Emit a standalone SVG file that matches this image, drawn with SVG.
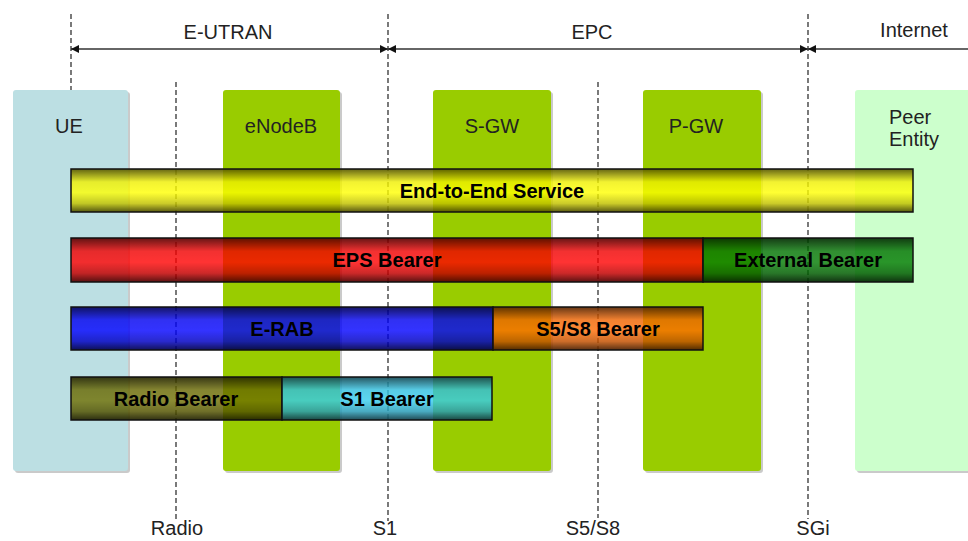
<svg xmlns="http://www.w3.org/2000/svg" width="968" height="541" viewBox="0 0 968 541">
<defs>
<style>
.lbl{font-family:"Liberation Sans",Arial,sans-serif;font-size:20px;fill:#222;}
.bt{font-family:"Liberation Sans",Arial,sans-serif;font-size:20px;font-weight:bold;fill:#000;text-anchor:middle;}
.dash{stroke:#333;stroke-width:1.3;stroke-dasharray:5 3;fill:none;}
.arr{stroke:#333;stroke-width:1.3;fill:none;}
.bar{opacity:0.8;}
.shade{fill:url(#shade);stroke:#111;stroke-width:1.5;}
.sh{fill:#8a8a8a;opacity:0.45;}
</style>
<linearGradient id="shade" x1="0" y1="0" x2="0" y2="1">
<stop offset="0" stop-color="#000" stop-opacity="0.6"/>
<stop offset="0.3" stop-color="#000" stop-opacity="0.05"/>
<stop offset="0.55" stop-color="#000" stop-opacity="0"/>
<stop offset="0.8" stop-color="#000" stop-opacity="0.2"/>
<stop offset="1" stop-color="#000" stop-opacity="0.65"/>
</linearGradient>
<marker id="ah" viewBox="0 0 10 10" refX="10" refY="5" markerWidth="10" markerHeight="8" markerUnits="userSpaceOnUse" orient="auto-start-reverse">
<path d="M0,0 L10,5 L0,10 z" fill="#111"/>
</marker>
</defs>
<rect width="968" height="541" fill="#fff"/>

<g id="interfaces">
<line class="dash" x1="71" y1="14" x2="71" y2="90"/>
<line class="dash" x1="176" y1="82" x2="176" y2="519"/>
<line class="dash" x1="388" y1="14" x2="388" y2="521"/>
<line class="dash" x1="598" y1="82" x2="598" y2="518"/>
<line class="dash" x1="808" y1="14" x2="808" y2="519"/>
</g>

<g id="ue">
<rect class="sh" x="15" y="92" width="115" height="381" rx="3"/>
<rect x="13" y="90" width="115" height="381" rx="3" fill="#bcdfe3"/>
<text class="lbl" x="69" y="133" text-anchor="middle">UE</text>
</g>
<g id="enodeb">
<rect class="sh" x="225" y="92" width="117" height="381" rx="3"/>
<rect x="223" y="90" width="117" height="381" rx="3" fill="#99cc00"/>
<text class="lbl" x="281" y="133" text-anchor="middle">eNodeB</text>
</g>
<g id="sgw">
<rect class="sh" x="435" y="92" width="118" height="381" rx="3"/>
<rect x="433" y="90" width="118" height="381" rx="3" fill="#99cc00"/>
<text class="lbl" x="492" y="133" text-anchor="middle">S-GW</text>
</g>
<g id="pgw">
<rect class="sh" x="645" y="92" width="118" height="381" rx="3"/>
<rect x="643" y="90" width="118" height="381" rx="3" fill="#99cc00"/>
<text class="lbl" x="696" y="133" text-anchor="middle">P-GW</text>
</g>
<g id="peer">
<rect class="sh" x="857" y="92" width="120" height="381" rx="3"/>
<rect x="855" y="90" width="120" height="381" rx="3" fill="#ccffcc"/>
<text class="lbl" x="889" y="124">Peer</text>
<text class="lbl" x="889" y="146">Entity</text>
</g>

<g id="connectors">
<line class="arr" x1="71" y1="49" x2="388" y2="49" marker-start="url(#ah)" marker-end="url(#ah)"/>
<line class="arr" x1="388" y1="49" x2="808" y2="49" marker-start="url(#ah)" marker-end="url(#ah)"/>
<line class="arr" x1="808" y1="49" x2="968" y2="49" marker-start="url(#ah)"/>
</g>

<g id="domains">
<text class="lbl" x="228" y="39" text-anchor="middle">E-UTRAN</text>
<text class="lbl" x="592" y="39" text-anchor="middle">EPC</text>
<text class="lbl" x="914" y="37" text-anchor="middle">Internet</text>
</g>

<g id="end-to-end-service">
<rect class="bar" x="71" y="169" width="842" height="43" fill="#ffff00"/>
<rect class="shade" x="71" y="169" width="842" height="43"/>
<text class="bt" x="492" y="198">End-to-End Service</text>
</g>
<g id="eps-bearer">
<rect class="bar" x="71" y="238" width="632" height="44" fill="#ff0000"/>
<rect class="shade" x="71" y="238" width="632" height="44"/>
<text class="bt" x="387" y="267">EPS Bearer</text>
</g>
<g id="external-bearer">
<rect class="bar" x="703" y="238" width="210" height="44" fill="#007a00"/>
<rect class="shade" x="703" y="238" width="210" height="44"/>
<text class="bt" x="808" y="267">External Bearer</text>
</g>
<g id="e-rab">
<rect class="bar" x="71" y="307" width="422" height="43" fill="#0000ff"/>
<rect class="shade" x="71" y="307" width="422" height="43"/>
<text class="bt" x="282" y="336">E-RAB</text>
</g>
<g id="s5s8-bearer">
<rect class="bar" x="493" y="307" width="210" height="43" fill="#ff6a00"/>
<rect class="shade" x="493" y="307" width="210" height="43"/>
<text class="bt" x="598" y="336">S5/S8 Bearer</text>
</g>
<g id="radio-bearer">
<rect class="bar" x="71" y="377" width="211" height="43" fill="#6e6e00"/>
<rect class="shade" x="71" y="377" width="211" height="43"/>
<text class="bt" x="176" y="406">Radio Bearer</text>
</g>
<g id="s1-bearer">
<rect class="bar" x="282" y="377" width="210" height="43" fill="#33ccee"/>
<rect class="shade" x="282" y="377" width="210" height="43"/>
<text class="bt" x="387" y="406">S1 Bearer</text>
</g>

<g id="interface-labels">
<text class="lbl" x="177" y="535" text-anchor="middle">Radio</text>
<text class="lbl" x="385" y="535" text-anchor="middle">S1</text>
<text class="lbl" x="593" y="535" text-anchor="middle">S5/S8</text>
<text class="lbl" x="813" y="535" text-anchor="middle">SGi</text>
</g>
</svg>
